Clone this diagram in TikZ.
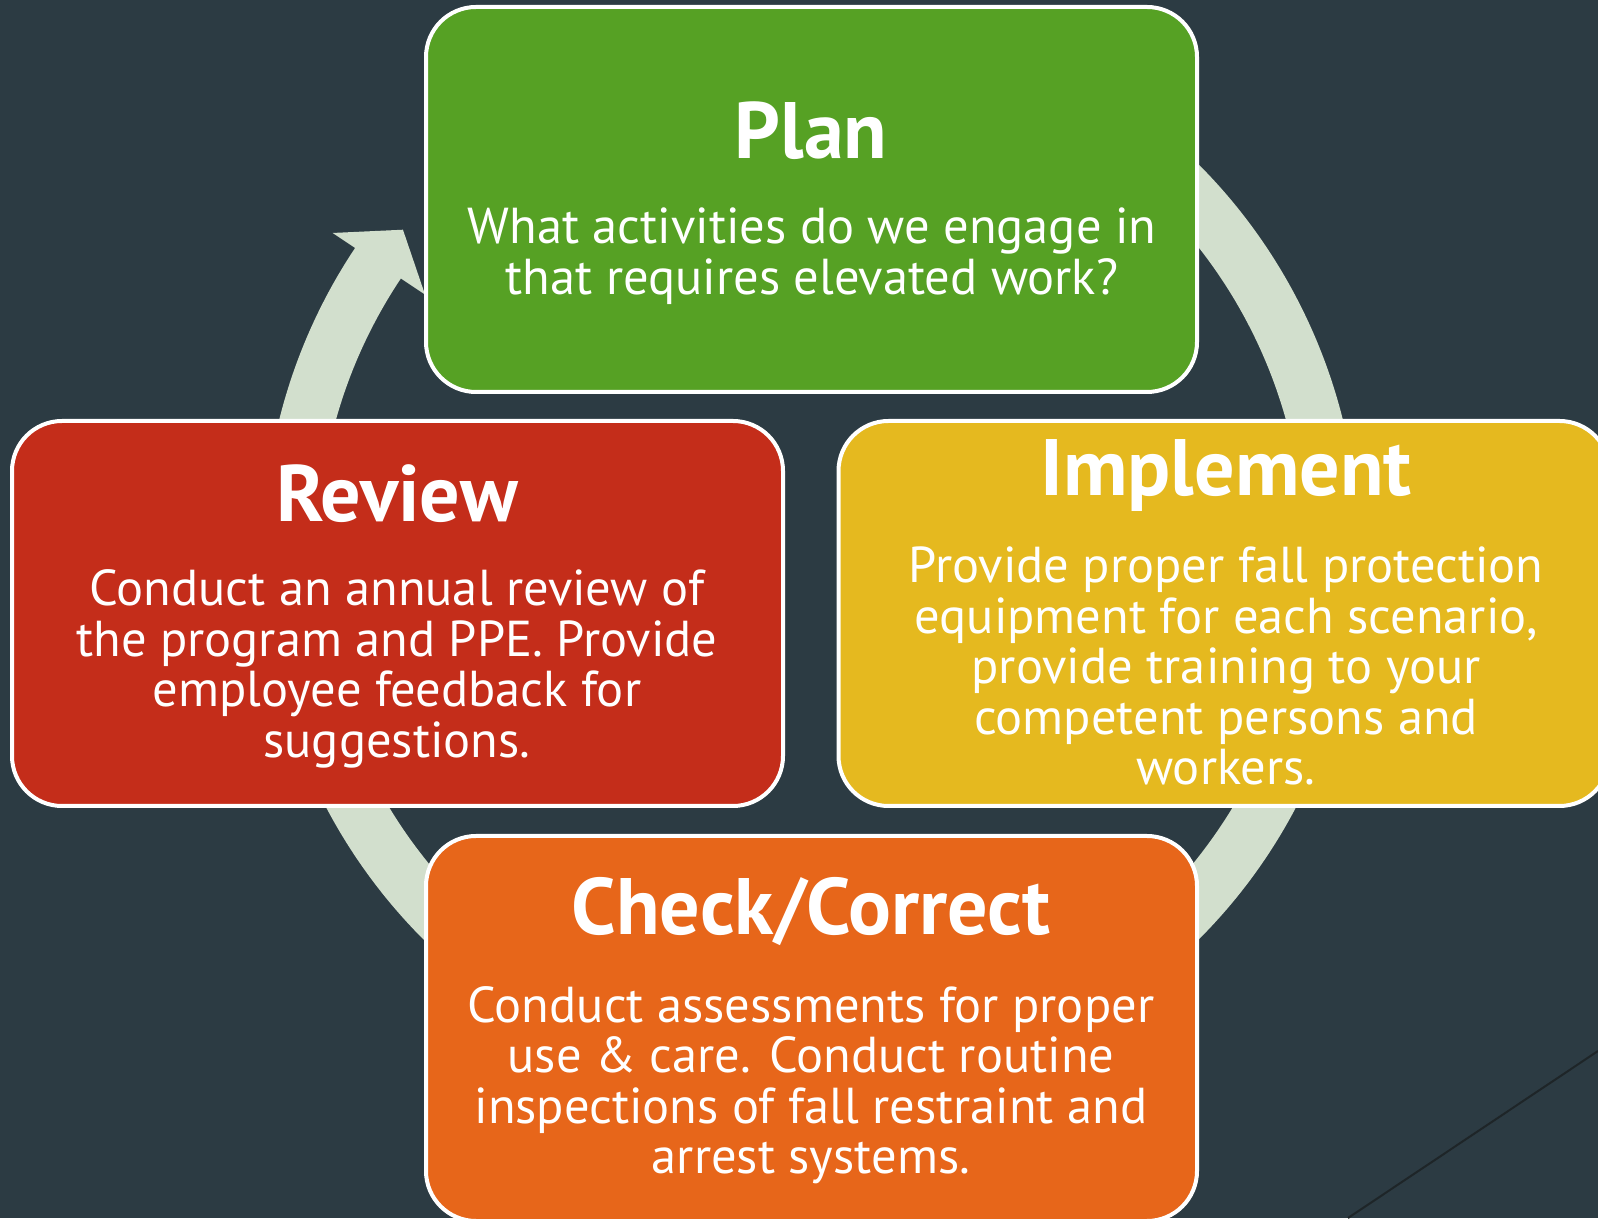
\documentclass[tikz,border=0pt]{standalone}
\usepackage{fontspec}
\setmainfont{PT Sans}
\definecolor{bgc}{HTML}{2C3B43}
\definecolor{ringc}{HTML}{D2DFCD}
\definecolor{planc}{HTML}{56A124}
\definecolor{reviewc}{HTML}{C42D1A}
\definecolor{implc}{HTML}{E5B91F}
\definecolor{checkc}{HTML}{E7661A}
\definecolor{linec}{HTML}{1E2528}
\tikzset{
  box/.style={draw=white, line width=4pt, rounded corners=50pt, minimum width=771pt, minimum height=385pt, inner sep=0pt},
  ttl/.style={text=white, inner sep=0pt, anchor=base, font=\fontsize{80}{80}\selectfont\bfseries},
  bdy/.style={text=white, inner sep=0pt, align=center, font=\fontsize{50.5}{50.5}\selectfont}
}
\begin{document}
\begin{tikzpicture}[x=1pt,y=1pt]
\useasboundingbox (0,0) rectangle (1598,1218);
\fill[bgc] (0,0) rectangle (1598,1218);
\draw[linec, line width=2pt] (1348,0) -- (1598,167);
% cycle ring with arrow head
\begin{scope}[shift={(811,666)}]
\fill[ringc] (70:548) arc[start angle=70, end angle=-213.7, radius=548]
  -- (146.3:575) -- (141.7:520) -- (146.3:464) -- (146.3:493)
  arc[start angle=-213.7, end angle=70, radius=493] -- cycle;
\end{scope}
% boxes
\node[box, fill=planc] (plan) at (811.5,1018.5) {};
\node[box, fill=reviewc] (review) at (397.5,604.5) {};
\node[box, fill=implc] (impl) at (1224,604.5) {};
\node[box, fill=checkc] (check) at (811.5,189.5) {};
% titles
\node[ttl] (plant) at (811,1059) {Plan};
\node[ttl] (reviewt) at (397,696) {Review};
\node[ttl] (implt) at (1226,722) {Implement};
\node[ttl] (checkt) at (811,283) {Check/Correct};
% bodies
\node[bdy] (planb) at (812,962) {What activities do we engage in\\that requires elevated work?};
\node[bdy] (reviewb) at (397,549) {Conduct an annual review of\\the program and PPE. Provide\\employee feedback for\\suggestions.};
\node[bdy] (implb) at (1226,552) {Provide proper fall protection\\equipment for each scenario,\\provide training to your\\competent persons and\\workers.};
\node[bdy] (checkb) at (811,133) {Conduct assessments for proper\\use \& care. Conduct routine\\inspections of fall restraint and\\arrest systems.};
\end{tikzpicture}
\end{document}
